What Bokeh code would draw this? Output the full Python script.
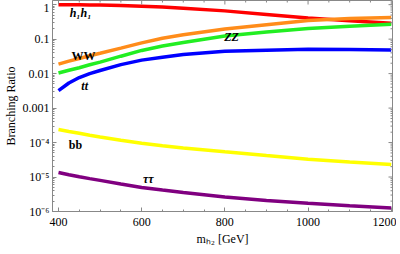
import math
from bokeh.plotting import figure
from bokeh.models import FixedTicker, CustomJSTickFormatter
from bokeh.core.properties import value
from bokeh.embed import file_html
from bokeh.resources import INLINE

# ---- data ----
mass = [400, 425, 450, 475, 500, 550, 600, 650, 700, 800, 900, 1000, 1100, 1200]
br_h1h1 = [1.0, 0.995, 0.99, 0.98, 0.97, 0.94, 0.90, 0.85, 0.79, 0.66, 0.52, 0.41, 0.34, 0.29]
br_ww = [0.0189, 0.023, 0.0275, 0.033, 0.039, 0.055, 0.078, 0.106, 0.134, 0.198, 0.262, 0.346, 0.395, 0.427]
br_zz = [0.0104, 0.0125, 0.0148, 0.018, 0.0216, 0.032, 0.047, 0.063, 0.080, 0.123, 0.160, 0.202, 0.235, 0.269]
br_tt = [0.0032, 0.00534, 0.0077, 0.0100, 0.0123, 0.0182, 0.0246, 0.030, 0.036, 0.0447, 0.0479, 0.051, 0.050, 0.048]
br_bb = [2.4e-4, 2.1e-4, 1.85e-4, 1.63e-4, 1.45e-4, 1.17e-4, 9.6e-5, 8.1e-5, 7.0e-5, 5.4e-5, 4.2e-5, 3.3e-5, 2.75e-5, 2.3e-5]
br_tautau = [1.36e-5, 1.17e-5, 1.02e-5, 9.0e-6, 8.0e-6, 6.3e-6, 5.0e-6, 4.2e-6, 3.55e-6, 2.65e-6, 2.1e-6, 1.73e-6, 1.48e-6, 1.27e-6]

series = [
    ("h1h1", br_h1h1, "#ff0000"),
    ("WW", br_ww, "#ff8c1a"),
    ("ZZ", br_zz, "#22ee22"),
    ("tt", br_tt, "#0000ff"),
    ("bb", br_bb, "#ffff00"),
    ("tautau", br_tautau, "#800080"),
]

label_text = ["h\u2081h\u2081", "WW", "tt", "ZZ", "bb", "\u03c4\u03c4"]
label_x = [453, 460, 463, 816, 441, 616]
label_y = [0.56, 0.033, 0.0044, 0.113, 8.7e-5, 8.5e-6]
label_style = ["bold italic", "bold", "bold italic", "bold italic", "bold", "bold italic"]

x_ticks = [400, 600, 800, 1000, 1200]
x_minor = [m for m in range(400, 1201, 50) if m not in x_ticks]
y_ticks = [10.0 ** e for e in range(-6, 1)]
y_minor = [k * 10.0 ** e for e in range(-6, 1) for k in range(2, 10)]

X0, X1 = 385.6, 1203
Y0, Y1 = 1.0e-6, 1.32

FONT = "Liberation Serif"
AXC = "#888888"

p = figure(frame_width=340, frame_height=211, x_range=(X0, X1), y_range=(Y0, Y1),
           y_axis_type="log", output_backend="svg", toolbar_location=None,
           min_border_left=38, min_border_right=4, min_border_top=0, min_border_bottom=30)
p.outline_line_color = AXC
p.grid.visible = False

for name, vals, col in series:
    p.line(mass, vals, line_color=col, line_width=3.5)

for st in ("bold", "bold italic"):
    idx = [i for i, s in enumerate(label_style) if s == st]
    p.text(x=[label_x[i] for i in idx], y=[label_y[i] for i in idx],
           text=[label_text[i] for i in idx], text_font=value(FONT),
           text_font_style=st, text_font_size="12px", text_color="black",
           text_align="center", text_baseline="middle")

# frame ticks on top and right (inward)
p.scatter(x=x_ticks, y=[Y1] * len(x_ticks), marker="dash", angle=math.pi / 2, size=8,
          line_color=AXC, line_width=1)
p.scatter(x=x_minor, y=[Y1] * len(x_minor), marker="dash", angle=math.pi / 2, size=4,
          line_color=AXC, line_width=1)
p.scatter(x=[X1] * len(y_ticks), y=y_ticks, marker="dash", size=8, line_color=AXC, line_width=1)
p.scatter(x=[X1] * len(y_minor), y=y_minor, marker="dash", size=4, line_color=AXC, line_width=1)

yfmt = CustomJSTickFormatter(code="""
const e = Math.round(Math.log10(tick));
if (e >= -3) { return ["0.001","0.01","0.1","1"][e+3]; }
const sup = {"-":"\u207b","0":"\u2070","1":"\u00b9","2":"\u00b2","3":"\u00b3","4":"\u2074","5":"\u2075","6":"\u2076","7":"\u2077","8":"\u2078","9":"\u2079"};
return "10" + String(e).split("").map(c => sup[c]).join("");
""")

def style(ax):
    ax.axis_line_color = AXC
    ax.major_tick_line_color = AXC
    ax.minor_tick_line_color = AXC
    ax.major_tick_in = 4
    ax.major_tick_out = 0
    ax.minor_tick_in = 2
    ax.minor_tick_out = 0
    ax.major_label_text_font = FONT
    ax.major_label_text_font_size = "12px"
    ax.major_label_text_color = "black"
    ax.major_label_standoff = 3
    ax.axis_label_text_font = FONT
    ax.axis_label_text_font_style = "normal"
    ax.axis_label_text_font_size = "12px"
    ax.axis_label_text_color = "black"
    ax.axis_label_standoff = 2

xa = p.xaxis[0]
xa.ticker = FixedTicker(ticks=x_ticks, minor_ticks=x_minor)
style(xa)
xa.major_label_standoff = 6
xa.axis_label_standoff = 3
xa.axis_label = "m\u2095\u2082 [GeV]"
ya = p.yaxis[0]
ya.ticker = FixedTicker(ticks=y_ticks, minor_ticks=y_minor)
ya.formatter = yfmt
style(ya)
ya.axis_label = "Branching Ratio"

open("out.html", "w").write(file_html(p, INLINE))
